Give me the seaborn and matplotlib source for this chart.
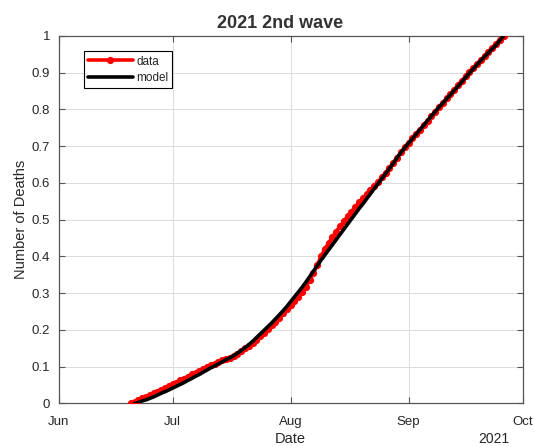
import numpy as np
import pandas as pd
import matplotlib
matplotlib.use("Agg")
import matplotlib.pyplot as plt
import matplotlib.dates as mdates
import seaborn as sns

# Normalised cumulative deaths, one value per day
data_start = "2021-06-20"
data_values = [
    0.000, 0.005, 0.009, 0.014, 0.018, 0.023, 0.028, 0.032, 0.037, 0.042,
    0.047, 0.052, 0.057, 0.063, 0.068, 0.073, 0.079, 0.084, 0.089, 0.094,
    0.100, 0.104, 0.108, 0.113, 0.117, 0.121, 0.125, 0.130, 0.136, 0.143,
    0.150, 0.157, 0.165, 0.174, 0.183, 0.193, 0.203, 0.213, 0.223, 0.234,
    0.245, 0.256, 0.267, 0.279, 0.291, 0.304, 0.318, 0.335, 0.355, 0.377,
    0.400, 0.420, 0.437, 0.453, 0.468, 0.482, 0.496, 0.509, 0.522, 0.535,
    0.547, 0.558, 0.570, 0.581, 0.592, 0.603, 0.615, 0.628, 0.641, 0.655,
    0.669, 0.683, 0.697, 0.710, 0.722, 0.734, 0.745, 0.757, 0.769, 0.781,
    0.793, 0.806, 0.818, 0.830, 0.842, 0.854, 0.866, 0.878, 0.890, 0.902,
    0.913, 0.924, 0.935, 0.946, 0.957, 0.968, 0.979, 0.990, 1.000,
]

# Fitted model curve, one value per day
model_start = "2021-06-21"
model_values = [
    0.000, 0.003, 0.007, 0.010, 0.014, 0.018, 0.023, 0.028, 0.032, 0.037,
    0.042, 0.047, 0.052, 0.057, 0.063, 0.068, 0.074, 0.079, 0.085, 0.091,
    0.097, 0.102, 0.108, 0.113, 0.119, 0.124, 0.130, 0.137, 0.144, 0.152,
    0.160, 0.169, 0.179, 0.189, 0.199, 0.209, 0.219, 0.230, 0.241, 0.252,
    0.264, 0.277, 0.290, 0.303, 0.316, 0.330, 0.345, 0.360, 0.375, 0.390,
    0.404, 0.418, 0.432, 0.446, 0.460, 0.474, 0.488, 0.502, 0.516, 0.530,
    0.543, 0.557, 0.571, 0.585, 0.598, 0.612, 0.626, 0.640, 0.654, 0.669,
    0.683, 0.696, 0.708, 0.720, 0.733, 0.745, 0.757, 0.770, 0.782, 0.794,
    0.806, 0.817, 0.829, 0.840, 0.852, 0.863, 0.875, 0.887, 0.899, 0.910,
    0.922, 0.933, 0.944, 0.954, 0.965, 0.975, 0.988, 1.000,
]

month_ticks = ["2021-06-01", "2021-07-01", "2021-08-01", "2021-09-01", "2021-10-01"]
month_labels = ["Jun", "Jul", "Aug", "Sep", "Oct"]
y_ticks = [0, 0.1, 0.2, 0.3, 0.4, 0.5, 0.6, 0.7, 0.8, 0.9, 1]
y_labels = ["0", "0.1", "0.2", "0.3", "0.4", "0.5", "0.6", "0.7", "0.8", "0.9", "1"]

df_data = pd.DataFrame({
    "Date": pd.date_range(data_start, periods=len(data_values), freq="D"),
    "Deaths": data_values,
})
df_model = pd.DataFrame({
    "Date": pd.date_range(model_start, periods=len(model_values), freq="D"),
    "Deaths": model_values,
})

sns.set_theme(style="white")
plt.rcParams["font.family"] = ["Liberation Sans", "DejaVu Sans"]

axis_color = "#262626"
fig = plt.figure(figsize=(5.34, 4.46), dpi=100, facecolor="white")
ax = fig.add_axes([0.1097, 0.0953, 0.869, 0.824])
ax.set_facecolor("white")

sns.lineplot(data=df_data, x="Date", y="Deaths", ax=ax, color="#ff0000",
             linewidth=2.6, marker="o", markersize=5.2, markeredgewidth=0,
             label="data", zorder=3)
sns.lineplot(data=df_model, x="Date", y="Deaths", ax=ax, color="black",
             linewidth=2.6, label="model", zorder=4)

tick_dates = pd.to_datetime(month_ticks)
ax.set_xlim(tick_dates[0], tick_dates[-1])
ax.set_ylim(0, 1)
ax.set_xticks(tick_dates)
ax.set_xticklabels(month_labels)
ax.set_yticks(y_ticks)
ax.set_yticklabels(y_labels)

ax.grid(True, color="#dcdcdc", linewidth=0.7)
ax.set_axisbelow(True)
for side in ["left", "right", "top", "bottom"]:
    ax.spines[side].set_visible(True)
    ax.spines[side].set_color("#555555")
    ax.spines[side].set_linewidth(0.9)
ax.tick_params(axis="both", which="both", direction="in", length=4, width=0.8,
               color="#555555", labelcolor=axis_color, labelsize=9.5,
               top=True, right=True, bottom=True, left=True, pad=6)
ax.tick_params(axis="x", pad=9)

ax.set_xlabel("Date", fontsize=10.5, color=axis_color, labelpad=3)
ax.set_ylabel("Number of Deaths", fontsize=10.5, color=axis_color, labelpad=3)
ax.set_title("2021 2nd wave", fontsize=13, fontweight="bold", color="#333333",
             pad=6, x=0.478)

ax.text(0.938, -0.078, "2021", transform=ax.transAxes, ha="center", va="top",
        fontsize=10, color=axis_color)

leg = ax.legend(loc="upper left", bbox_to_anchor=(0.054, 0.958), fontsize=8.5,
                frameon=True, fancybox=False, framealpha=1, edgecolor="black",
                handlelength=3.8, handletextpad=0.3, borderpad=0.35,
                labelspacing=0.35, borderaxespad=0, numpoints=1)
leg.get_frame().set_linewidth(0.8)

fig.savefig("out.png", dpi=100, facecolor="white")
